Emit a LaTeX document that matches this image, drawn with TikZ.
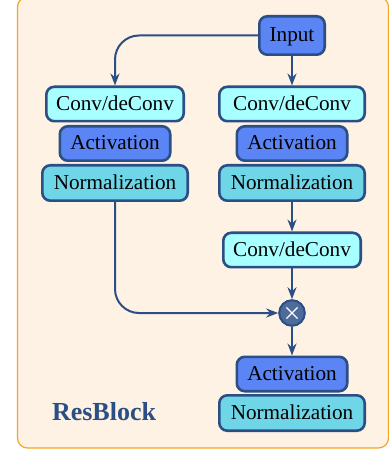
\documentclass[tikz,border=0pt]{standalone}
\usepackage{fontspec}
\setmainfont{Liberation Serif}
\usetikzlibrary{arrows.meta, positioning}
\definecolor{blockline}{HTML}{2B4F85}
\definecolor{framefill}{HTML}{FDF2E4}
\definecolor{frameline}{HTML}{F5A623}
\definecolor{convfill}{HTML}{A8FFFF}
\definecolor{actfill}{HTML}{5B84F5}
\definecolor{normfill}{HTML}{6FD6E8}
\definecolor{multfill}{HTML}{4D6C9C}

\tikzset{
  block/.style={draw=blockline, line width=1.3pt, rounded corners=4pt,
    inner sep=0pt, text height=0.75em, text depth=0.1em,
    font=\fontsize{10.6}{12}\selectfont},
  convbox/.style={block, fill=convfill, minimum width=68.7pt, minimum height=17.2pt},
  actbox/.style={block, fill=actfill, minimum width=55.2pt, minimum height=17.2pt},
  normbox/.style={block, fill=normfill, minimum width=72.7pt, minimum height=17.7pt},
  inbox/.style={block, fill=actfill, minimum width=32.7pt, minimum height=19.2pt},
  multnode/.style={circle, draw=blockline, line width=1pt, fill=multfill,
    minimum size=12.8pt, inner sep=0pt,
    path picture={
      \draw[white, line width=0.6pt]
        ([shift={(-2.8pt,-2.8pt)}]path picture bounding box.center) --
        ([shift={(2.8pt,2.8pt)}]path picture bounding box.center)
        ([shift={(-2.8pt,2.8pt)}]path picture bounding box.center) --
        ([shift={(2.8pt,-2.8pt)}]path picture bounding box.center);
    }},
  link/.style={draw=blockline, line width=1pt,
    -{Stealth[length=6pt, width=4.5pt]}, rounded corners=12pt}
}

\begin{document}
\begin{tikzpicture}[x=0.5pt, y=-0.5pt]
    \useasboundingbox (0,0) rectangle (389,453);
    \draw[frameline, fill=framefill, line width=0.6pt, rounded corners=5pt]
        (17.5,-3) rectangle (388.5,448);

    % left branch
    \node[convbox] (lconv) at (115,104) {Conv/deConv};
    \node[actbox] (lact) at (115,143.5) {Activation};
    \node[normbox] (lnorm) at (115,183) {Normalization};

    % main branch
    \node[inbox] (input) at (292,35.5) {Input};
    \node[convbox, minimum width=72.7pt] (rconv) at (292,104) {Conv/deConv};
    \node[actbox] (ract) at (292,143.5) {Activation};
    \node[normbox] (rnorm) at (292,183) {Normalization};
    \node[convbox] (mconv) at (292,250) {Conv/deConv};
    \node[multnode] (mult) at (292,313) {};
    \node[actbox] (bact) at (292,374) {Activation};
    \node[normbox] (bnorm) at (292,413) {Normalization};

    \node[text=blockline, font=\bfseries\fontsize{13}{15}\selectfont] (title) at (104,412) {ResBlock};

    \draw[link] (input.west) -| (lconv.north);
    \draw[link] (input.south) -- (rconv.north);
    \draw[link] (rnorm.south) -- (mconv.north);
    \draw[link] (mconv.south) -- (mult.north);
    \draw[link] (lnorm.south) |- (mult.west);
    \draw[link] (mult.south) -- (bact.north);
\end{tikzpicture}
\end{document}
